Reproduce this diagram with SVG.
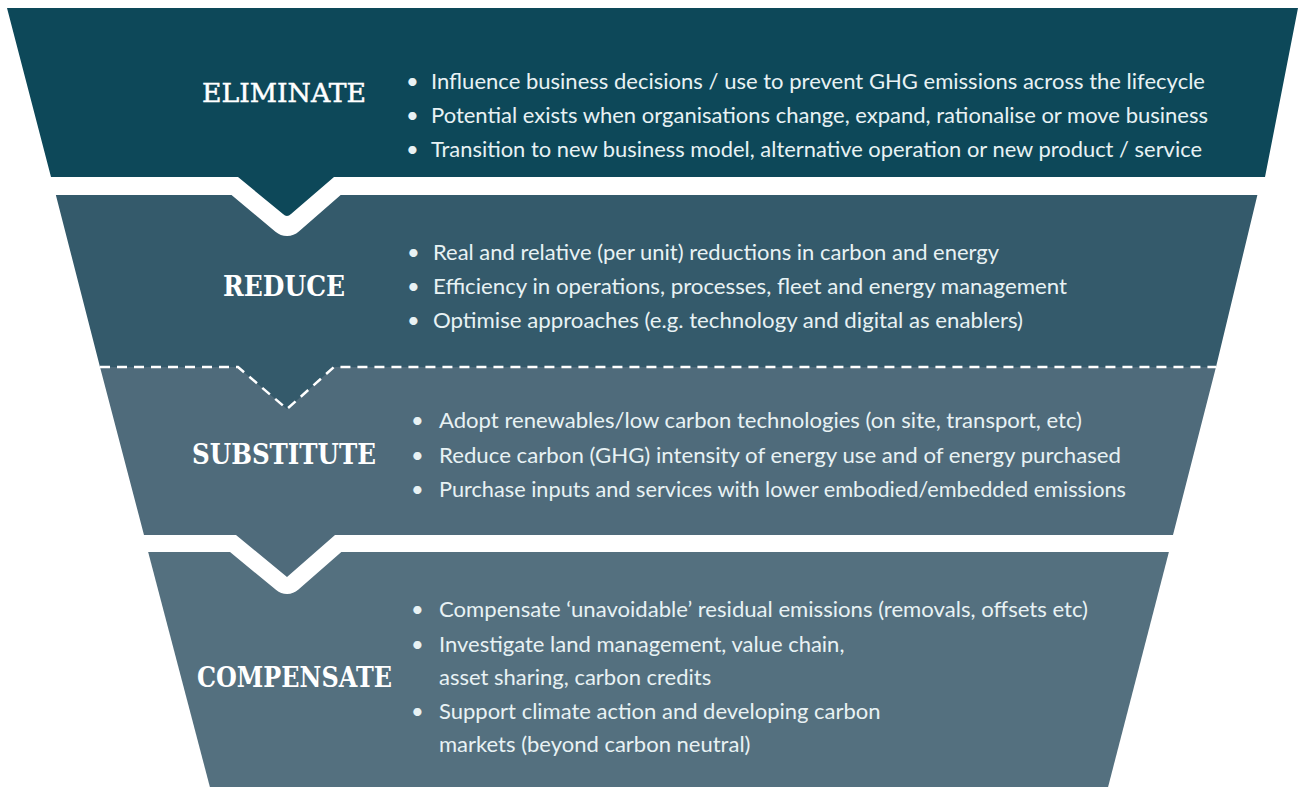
<svg xmlns="http://www.w3.org/2000/svg" width="1310" height="787" viewBox="0 0 1310 787">
  <style>
    .band1 { fill: #0d4859; }
    .band2 { fill: #345a6b; }
    .band3 { fill: #4f6b7b; }
    .band4 { fill: #54707f; }
    .gap { fill: none; stroke: #ffffff; stroke-linejoin: round; }
    .dash { fill: none; stroke: #ffffff; stroke-width: 2.5; stroke-dasharray: 10 7; }
    .head { font-family: "DejaVu Serif", "Liberation Serif", serif; fill: #ffffff; }
    .item { font-family: Lato, "Open Sans", "Liberation Sans", sans-serif; font-size: 22px; fill: #e8f2f4; }
  </style>
  <rect width="1310" height="787" fill="#ffffff"/>

  <!-- bottom tier -->
  <g id="compensate">
    <path class="band4" d="M145,540 H1172 L1106,795 H212 Z"/>
    <text class="head" x="197" y="687" font-size="27" font-weight="bold" textLength="195" lengthAdjust="spacingAndGlyphs">COMPENSATE</text>
    <g class="item">
      <text x="411" y="617">•</text>
      <text x="439" y="617" textLength="649" lengthAdjust="spacingAndGlyphs">Compensate ‘unavoidable’ residual emissions (removals, offsets etc)</text>
      <text x="411" y="652">•</text>
      <text x="439" y="652">Investigate land management, value chain,</text>
      <text x="439" y="685">asset sharing, carbon credits</text>
      <text x="411" y="719">•</text>
      <text x="439" y="719">Support climate action and developing carbon</text>
      <text x="439" y="752">markets (beyond carbon neutral)</text>
    </g>
  </g>

  <!-- third tier with white notch below -->
  <g id="substitute">
    <path class="gap" stroke-width="34" d="M120,535 H236 L287,577 L335,535 H1195"/>
    <path class="band3" d="M100,367 H1216 L1173,535 H335 L287,577 L236,535 H144 Z"/>
    <text class="head" x="192" y="464" font-size="27" font-weight="bold" textLength="184" lengthAdjust="spacingAndGlyphs">SUBSTITUTE</text>
    <g class="item">
      <text x="411" y="428">•</text>
      <text x="439" y="428" textLength="643" lengthAdjust="spacingAndGlyphs">Adopt renewables/low carbon technologies (on site, transport, etc)</text>
      <text x="411" y="463">•</text>
      <text x="439" y="463" textLength="682" lengthAdjust="spacingAndGlyphs">Reduce carbon (GHG) intensity of energy use and of energy purchased</text>
      <text x="411" y="497">•</text>
      <text x="439" y="497" textLength="687" lengthAdjust="spacingAndGlyphs">Purchase inputs and services with lower embodied/embedded emissions</text>
    </g>
  </g>

  <!-- second tier, dashed edge below -->
  <g id="reduce">
    <path class="band2" d="M52,180 H1261 L1216,367 H334 L287,409 L238,367 H100 Z"/>
    <path class="dash" d="M100,367 H238 L287,409 L334,367 H1216"/>
    <text class="head" x="223" y="296" font-size="27" font-weight="bold" textLength="122" lengthAdjust="spacingAndGlyphs">REDUCE</text>
    <g class="item">
      <text x="407" y="260">•</text>
      <text x="433" y="260" textLength="566" lengthAdjust="spacingAndGlyphs">Real and relative (per unit) reductions in carbon and energy</text>
      <text x="407" y="294">•</text>
      <text x="433" y="294" textLength="634" lengthAdjust="spacingAndGlyphs">Efficiency in operations, processes, fleet and energy management</text>
      <text x="407" y="328">•</text>
      <text x="433" y="328" textLength="590" lengthAdjust="spacingAndGlyphs">Optimise approaches (e.g. technology and digital as enablers)</text>
    </g>
  </g>

  <!-- top tier with white notch below -->
  <g id="eliminate">
    <path class="gap" stroke-width="36" d="M35,177 H238 L287,218 L334,177 H1285"/>
    <path class="band1" d="M7,8 H1298 L1265,177 H334 L291,214 Q287,218 283,214 L238,177 H51 Z"/>
    <text class="head" x="202" y="102" font-size="26" stroke="#ffffff" stroke-width="0.5" textLength="164" lengthAdjust="spacingAndGlyphs">ELIMINATE</text>
    <g class="item">
      <text x="406" y="89">•</text>
      <text x="431" y="89" textLength="774" lengthAdjust="spacingAndGlyphs">Influence business decisions / use to prevent GHG emissions across the lifecycle</text>
      <text x="406" y="123">•</text>
      <text x="431" y="123" textLength="777" lengthAdjust="spacingAndGlyphs">Potential exists when organisations change, expand, rationalise or move business</text>
      <text x="406" y="157">•</text>
      <text x="431" y="157" textLength="771" lengthAdjust="spacingAndGlyphs">Transition to new business model, alternative operation or new product / service</text>
    </g>
  </g>
</svg>
